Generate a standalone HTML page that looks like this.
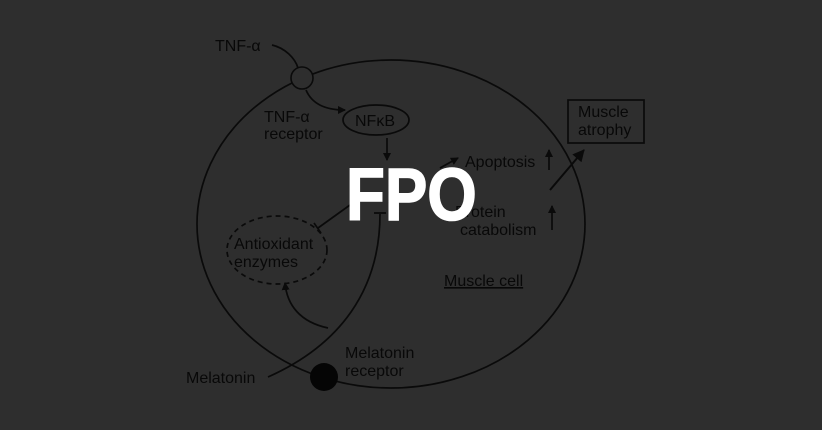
<!DOCTYPE html>
<html><head><meta charset="utf-8"><style>
html,body{margin:0;padding:0;background:#2e2e2e;width:822px;height:430px;overflow:hidden}
svg{display:block}
text{font-family:"Liberation Sans",sans-serif;fill:#080808;font-size:16px}
</style></head><body>
<svg width="822" height="430" viewBox="0 0 822 430" xmlns="http://www.w3.org/2000/svg">
<defs><marker id="a" markerWidth="8" markerHeight="8" refX="7" refY="4" orient="auto" markerUnits="userSpaceOnUse"><path d="M0,0 L8,4 L0,8 z" fill="#0a0a0a"/></marker>
<marker id="b" markerWidth="12" markerHeight="12" refX="11" refY="6" orient="auto" markerUnits="userSpaceOnUse"><path d="M0,0 L12,6 L0,12 z" fill="#0a0a0a"/></marker></defs>
<g stroke="#0a0a0a" fill="none" stroke-width="1.7">
<ellipse cx="391" cy="224" rx="194" ry="164"/>
<path d="M272,45 C285,48 295,58 298,68" />
<path d="M306,90 C312,104 325,110 345,110" marker-end="url(#a)"/>
<ellipse cx="376" cy="120" rx="33" ry="15"/>
<path d="M387,138 L387,160" marker-end="url(#a)"/>
<path d="M440,168 L458,158" marker-end="url(#a)"/>
<path d="M549,170 L549,150" marker-end="url(#a)"/>
<path d="M552,230 L552,206" marker-end="url(#a)"/>
<rect x="568" y="100" width="76" height="43"/>
<path d="M550,190 L584,150" stroke-width="2" marker-end="url(#b)"/>
<ellipse cx="277" cy="250" rx="50" ry="34" stroke-dasharray="5,4"/>
<path d="M350,205 L318,228 M314,223 L321,233"/>
<path d="M268,377 C340,345 380,290 380,214 M374,213 L386,213"/>
<path d="M328,328 C300,322 287,305 285,283" marker-end="url(#a)"/>
</g>
<circle cx="302" cy="78" r="11" fill="#2e2e2e" stroke="#0a0a0a" stroke-width="1.6"/>
<circle cx="324" cy="377" r="14" fill="#050505"/>
<text x="215" y="51">TNF-α</text>
<text x="264" y="122">TNF-α</text>
<text x="264" y="139">receptor</text>
<text x="355" y="126">NFκB</text>
<text x="465" y="167">Apoptosis</text>
<text x="455" y="217">Protein</text>
<text x="460" y="235">catabolism</text>
<text x="578" y="117">Muscle</text>
<text x="578" y="135">atrophy</text>
<text x="234" y="249">Antioxidant</text>
<text x="234" y="267">enzymes</text>
<text x="444" y="286" text-decoration="underline">Muscle cell</text>
<text x="186" y="383">Melatonin</text>
<text x="345" y="358">Melatonin</text>
<text x="345" y="376">receptor</text>
<text x="0" y="0" style="fill:#fff;font-weight:bold;font-size:74px;stroke:#fff;stroke-width:1.5" transform="translate(346,220) scale(0.86,1)">FPO</text>
</svg>
</body></html>
